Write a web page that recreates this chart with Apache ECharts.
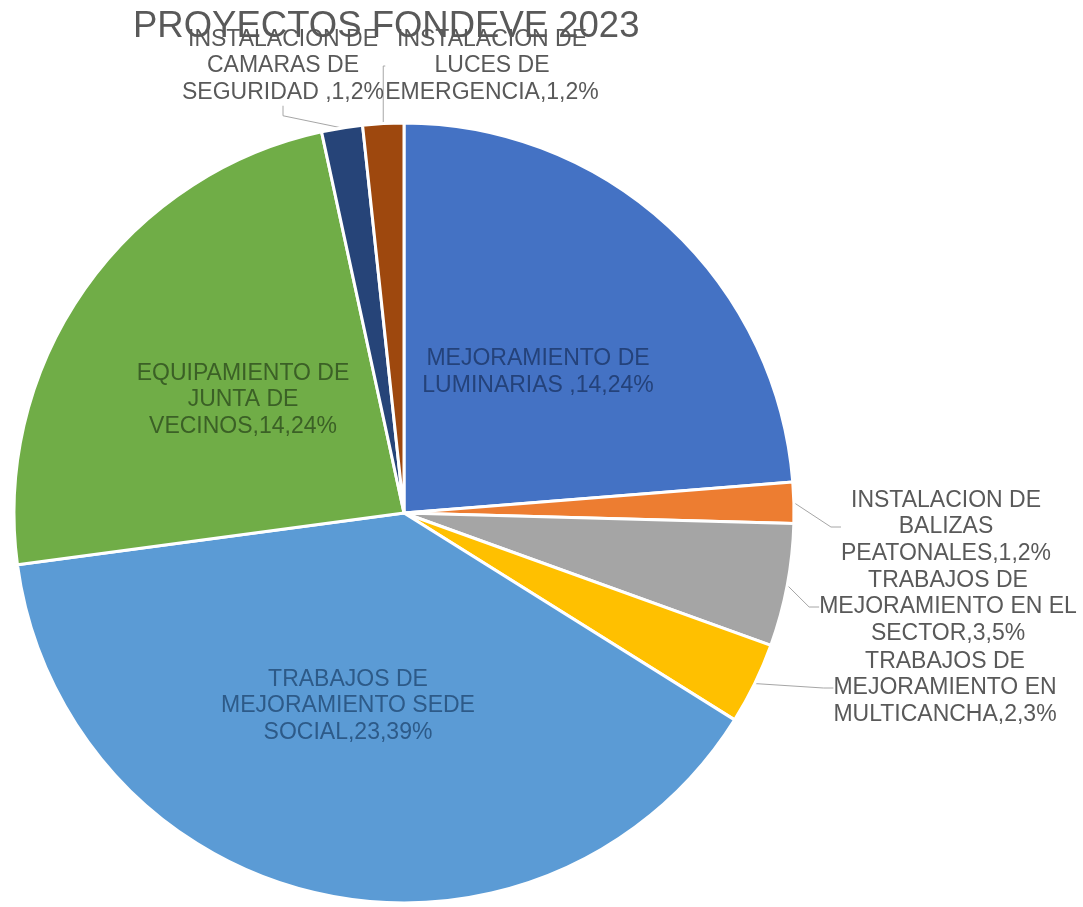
<!DOCTYPE html>
<html>
<head>
<meta charset="utf-8">
<script src="https://cdn.jsdelivr.net/npm/echarts@6/dist/echarts.min.js"></script>
<style>
  html, body { margin: 0; padding: 0; background: #fff; }
  #main { width: 1083px; height: 907px; }
</style>
</head>
<body>
<div id="main"></div>
<script>
// datos del grafico
const titulo = 'PROYECTOS FONDEVE 2023';
const categorias = [
  'MEJORAMIENTO DE LUMINARIAS ',
  'INSTALACION DE BALIZAS PEATONALES',
  'TRABAJOS DE MEJORAMIENTO EN EL SECTOR',
  'TRABAJOS DE MEJORAMIENTO EN MULTICANCHA',
  'TRABAJOS DE MEJORAMIENTO SEDE SOCIAL',
  'EQUIPAMIENTO DE JUNTA DE VECINOS',
  'INSTALACION DE CAMARAS DE SEGURIDAD ',
  'INSTALACION DE LUCES DE EMERGENCIA'
];
const valores = [14, 1, 3, 2, 23, 14, 1, 1];

// estilos (colores tipo Office)
const colores = ['#4472C4', '#ED7D31', '#A5A5A5', '#FFC000', '#5B9BD5', '#70AD47', '#264478', '#9E480E'];
const dentro = [true, false, false, false, true, true, false, false];
const colorTexto = ['#24427a', '#595959', '#595959', '#595959', '#2d5a88', '#3b6026', '#595959', '#595959'];
// posicion de etiquetas [x, y]
const etiquetas = [
  [538, 372],
  [946, 527],
  [948, 607],
  [945, 688],
  [348, 706],
  [243, 400],
  [283, 66],
  [492, 66]
];
// palabras por linea en cada etiqueta (el resto va en la ultima)
const cortes = [[2], [2, 1], [2, 3], [2, 2], [2, 2], [2, 2], [2, 2], [2, 2]];

const chart = echarts.init(document.getElementById('main'));

// arma el texto de la etiqueta al estilo Excel: nombre,valor,porcentaje%
function textoEtiqueta(p) {
  const palabras = (p.name + ',' + p.value + ',' + Math.round(p.percent) + '%').split(' ');
  const lineas = [];
  let k = 0;
  cortes[p.dataIndex].forEach(n => {
    lineas.push(palabras.slice(k, k + n).join(' '));
    k += n;
  });
  lineas.push(palabras.slice(k).join(' '));
  return lineas.join('\n');
}

const datos = categorias.map((nombre, i) => ({
  name: nombre,
  value: valores[i],
  itemStyle: { color: colores[i] },
  label: {
    position: dentro[i] ? 'inside' : 'outside',
    color: colorTexto[i]
  },
  labelLine: { show: !dentro[i] }
}));

const option = {
  backgroundColor: '#ffffff',
  title: {
    text: titulo,
    left: 128,
    top: 3,
    textStyle: {
      fontFamily: 'Liberation Sans, Arial, sans-serif',
      fontSize: 36.5,
      fontWeight: 'normal',
      color: '#595959'
    }
  },
  series: [
    {
      type: 'pie',
      center: [404, 513],
      radius: 390,
      startAngle: 90,
      clockwise: true,
      percentPrecision: 2,
      avoidLabelOverlap: false,
      itemStyle: { borderColor: '#ffffff', borderWidth: 3 },
      label: {
        show: true,
        formatter: textoEtiqueta,
        fontFamily: 'Liberation Sans, Arial, sans-serif',
        fontSize: 23,
        lineHeight: 26.5,
        align: 'center'
      },
      labelLine: {
        length: 10,
        length2: 10,
        lineStyle: { color: '#a6a6a6', width: 1 }
      },
      labelLayout: function (p) {
        const e = etiquetas[p.dataIndex];
        return { x: e[0], y: e[1], align: 'center', verticalAlign: 'middle' };
      },
      emphasis: { disabled: true },
      data: datos
    }
  ]
};

chart.setOption(option);
</script>
</body>
</html>
